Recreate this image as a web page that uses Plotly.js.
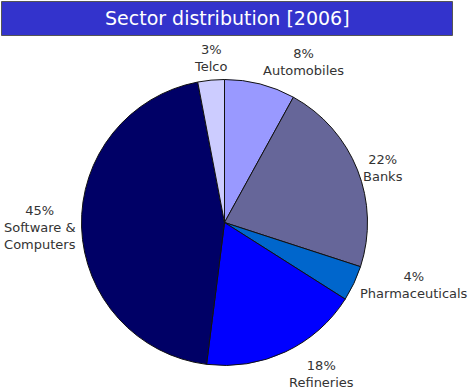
<!DOCTYPE html>
<html><head><meta charset="utf-8">
<script src="https://cdn.plot.ly/plotly-3.0.1.min.js"></script>
<style>html,body{margin:0;padding:0;background:#fff}#chart{width:475px;height:392px}</style>
</head><body><div id="chart"></div>
<script>
var sectors = ["Automobiles", "Banks", "Pharmaceuticals", "Refineries", "Software &<br>Computers", "Telco"];
var shares = [8, 22, 4, 18, 45, 3];
var colors = ["#9999ff", "#666699", "#0066cc", "#0000ff", "#000066", "#ccccff"];
var titleText = "Sector distribution [2006]";

var W = 475, H = 392;
var cx = 224.5, cy = 222.5, r = 143, labelR = 147;

var trace = {
  type: "pie",
  labels: sectors,
  values: shares,
  sort: false,
  direction: "clockwise",
  rotation: 0,
  marker: {colors: colors, line: {color: "#111", width: 1}},
  textinfo: "none",
  hoverinfo: "none",
  automargin: false,
  showlegend: false,
  domain: {x: [(cx - r) / W, (cx + r) / W], y: [(H - cy - r) / H, (H - cy + r) / H]}
};

// labels placed along each slice's mid-angle (computed from the data)
var total = shares.reduce(function (a, b) { return a + b; }, 0);
var annotations = [];
var cum = 0;
for (var i = 0; i < shares.length; i++) {
  var mid = (cum + shares[i] / 2) / total * 2 * Math.PI;
  cum += shares[i];
  var s = Math.sin(mid), c = Math.cos(mid);
  var px = cx + labelR * s, py = cy - labelR * c;
  var pct = Math.round(shares[i] / total * 100);
  annotations.push({
    xref: "paper", yref: "paper", x: px / W, y: 1 - py / H,
    xanchor: s > 0.2 ? "left" : (s < -0.2 ? "right" : "center"),
    yanchor: c > 0.5 ? "bottom" : (c < -0.5 ? "top" : "middle"),
    align: "center", showarrow: false,
    text: pct + "%<br>" + sectors[i],
    font: {family: "DejaVu Sans", size: 13, color: "#333"}
  });
}
annotations.push({
  xref: "paper", yref: "paper", x: 227 / W, y: 1 - 18 / H,
  xanchor: "center", yanchor: "middle", showarrow: false,
  text: titleText, font: {family: "DejaVu Sans", size: 19, color: "#fff"}
});

var layout = {
  width: W, height: H,
  margin: {l: 0, r: 0, t: 0, b: 0},
  paper_bgcolor: "#fff",
  showlegend: false,
  shapes: [{
    type: "rect", xref: "paper", yref: "paper",
    x0: 1.5 / W, x1: 452.5 / W, y0: 1 - 35.5 / H, y1: 1 - 1.5 / H,
    fillcolor: "#3333cc", line: {color: "#555", width: 1}
  }],
  annotations: annotations
};

Plotly.newPlot("chart", [trace], layout, {displayModeBar: false, staticPlot: true});
</script></body></html>
